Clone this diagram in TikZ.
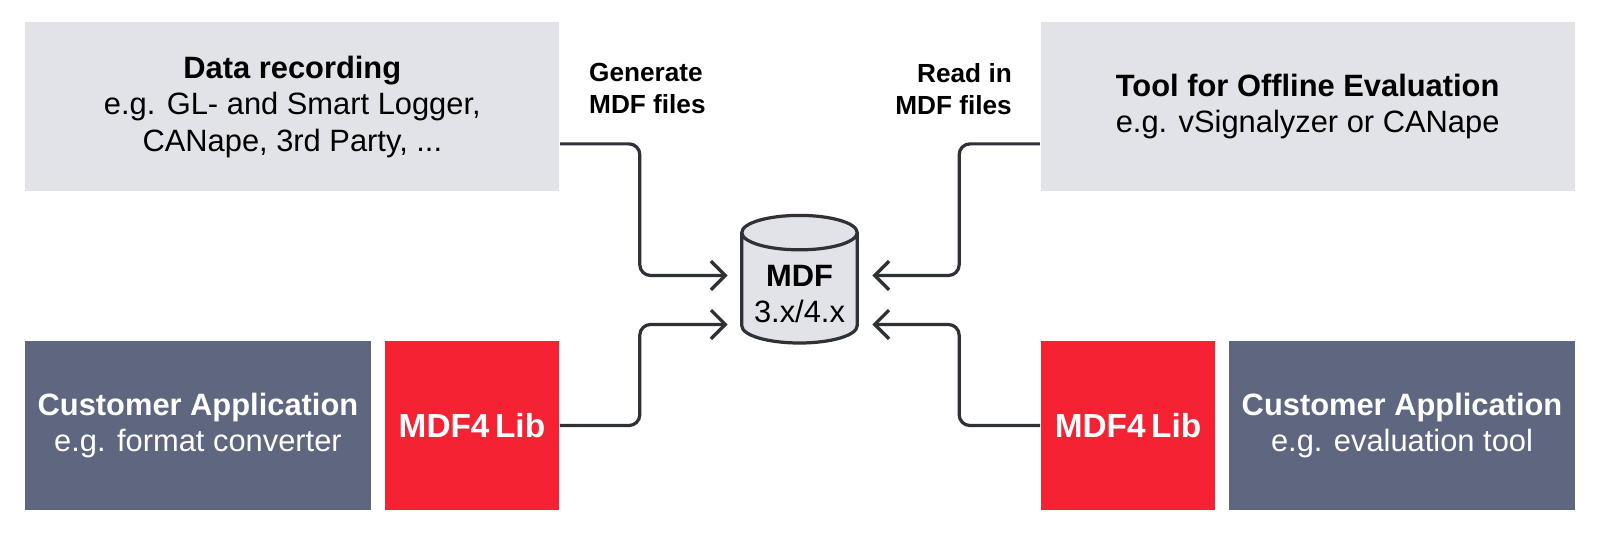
\documentclass[tikz,border=0pt]{standalone}
\usepackage{fontspec}
\setmainfont{Liberation Sans}
\usepackage{tikz}
\usetikzlibrary{shapes.geometric,arrows.meta,positioning,calc}
\definecolor{lightbox}{HTML}{E2E3E8}
\definecolor{slate}{HTML}{5F6680}
\definecolor{libred}{HTML}{F52234}
\definecolor{wire}{HTML}{2E3138}

\begin{document}
\begin{tikzpicture}[x=0.01cm,y=-0.01cm,
  box/.style={inner sep=0pt, align=center, font=\fontsize{8.6}{10.2}\selectfont},
  light/.style={box, fill=lightbox, text=black},
  dark/.style={box, fill=slate, text=white},
  lib/.style={box, fill=libred, text=white, font=\fontsize{9.3}{11}\selectfont\bfseries},
  conn/.style={draw=wire, line width=0.9pt, -{Straight Barb[length=4pt,width=8pt]}},
  note/.style={font=\fontsize{7.3}{8.8}\selectfont\bfseries}
]
\useasboundingbox (0,0) rectangle (1568,522);
% Upper boxes
\node[light, minimum width=5.23cm, minimum height=1.65cm] (rec) at (286.5,104.5)
  {{\bfseries Data recording}\\e.g. GL- and Smart Logger,\\CANape, 3rd Party, ...};
\node[light, minimum width=5.23cm, minimum height=1.65cm] (eval) at (1281.5,104.5)
  {{\bfseries Tool for Offline Evaluation}\\e.g. vSignalyzer or CANape};

% Lower boxes
\node[dark, minimum width=3.38cm, minimum height=1.66cm] (custL) at (194,417)
  {{\bfseries Customer Application}\\e.g. format converter};
\node[lib, minimum width=1.71cm, minimum height=1.66cm] (libL) at (462.5,417) {MDF4\,Lib};
\node[lib, minimum width=1.71cm, minimum height=1.66cm] (libR) at (1105.5,417) {MDF4\,Lib};
\node[dark, minimum width=3.38cm, minimum height=1.66cm] (custR) at (1374,417)
  {{\bfseries Customer Application}\\e.g. evaluation tool};

% MDF storage
\node[cylinder, shape border rotate=90, aspect=0.3, draw=wire, line width=0.9pt,
  fill=lightbox, minimum width=1.13cm, minimum height=1.25cm, align=center,
  font=\fontsize{8.6}{10.2}\selectfont] (mdf) at (783.5,288) {{\bfseries MDF}\\3.x/4.x};
\coordinate (inUL) at (713,270);
\coordinate (inLL) at (713,318);
\coordinate (inUR) at (855,270);
\coordinate (inLR) at (855,318);

% Connectors
\draw[conn, rounded corners=3pt] (rec.east |- 0,141) -- (627,141) |- (inUL);
\draw[conn, rounded corners=3pt] (libL.east) -- (627,417) |- (inLL);
\draw[conn, rounded corners=3pt] (eval.west |- 0,141) -- (940,141) |- (inUR);
\draw[conn, rounded corners=3pt] (libR.west) -- (940,417) |- (inLR);

% Notes
\node[note, anchor=north west, align=left] (gen) at (565,50) {Generate\\MDF files};
\node[note, anchor=north east, align=right] (read) at (1004,50) {Read in\\MDF files};
\end{tikzpicture}
\end{document}
